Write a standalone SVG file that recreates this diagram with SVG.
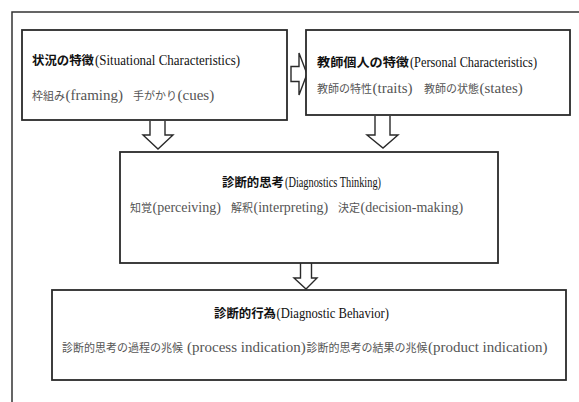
<svg xmlns="http://www.w3.org/2000/svg" width="579" height="402" viewBox="0 0 579 402">
<style>
.frame{fill:none;stroke:#333;stroke-width:1.5}
.box{fill:#fff;stroke:#2a2a2a;stroke-width:1.8}
.arr{fill:#fff;stroke:#2a2a2a;stroke-width:1.4;stroke-linejoin:miter}
text{font-family:"Liberation Serif","Noto Sans CJK JP",serif}
.tj{font-size:12.5px;fill:#111;font-weight:700}
.tl{font-size:14.5px;fill:#111}
.sj{font-size:11px;fill:#555}
.sl{font-size:15px;fill:#555}
.sl2{font-size:14px;fill:#555}
</style>
<rect width="579" height="402" fill="#fff"/>
<rect class="frame" x="12" y="12" width="620" height="430"/>
<g id="connectors">
<path class="arr" d="M291,66.5 H299 V53 L307,74 L299,95 V81.5 H291 Z"/>
<path class="arr" d="M150,121 V135 H143 L158,149 L173,135 H165 V121"/>
<path class="arr" d="M375,116 V135 H367 L383,148 L398,135 H390 V116"/>
<path class="arr" d="M300.5,263 V278 H294 L306,289 L317,278 H311.5 V263"/>
</g>
<g id="situational">
<rect class="box" x="22" y="30" width="265" height="90"/>
<text class="tj" x="32" y="65" textLength="62" lengthAdjust="spacingAndGlyphs">状況の特徴</text>
<text class="tl" x="95" y="65" textLength="145" lengthAdjust="spacingAndGlyphs">(Situational Characteristics)</text>
<text class="sj" x="32" y="99.5">枠組み</text>
<text class="sl" x="65.5" y="99.5">(framing)</text>
<text class="sj" x="133" y="99.5">手がかり</text>
<text class="sl" x="177.5" y="99.5">(cues)</text>
</g>
<g id="personal">
<rect class="box" x="306" y="30" width="264" height="85"/>
<text class="tj" x="317" y="66.5" textLength="92" lengthAdjust="spacingAndGlyphs">教師個人の特徴</text>
<text class="tl" x="410" y="66.5" textLength="127" lengthAdjust="spacingAndGlyphs">(Personal Characteristics)</text>
<text class="sj" x="317" y="92.5">教師の特性</text>
<text class="sl" x="372.5" y="92.5">(traits)</text>
<text class="sj" x="424" y="92.5">教師の状態</text>
<text class="sl" x="479.5" y="92.5">(states)</text>
</g>
<g id="thinking">
<rect class="box" x="120" y="152" width="378" height="111"/>
<text class="tj" x="222" y="186.5" textLength="62" lengthAdjust="spacingAndGlyphs">診断的思考</text>
<text class="tl" x="285" y="186.5" textLength="96" lengthAdjust="spacingAndGlyphs">(Diagnostics Thinking)</text>
<text class="sj" x="130" y="212">知覚</text>
<text class="sl2" x="152.5" y="212">(perceiving)</text>
<text class="sj" x="231" y="212">解釈</text>
<text class="sl2" x="253.5" y="212">(interpreting)</text>
<text class="sj" x="338" y="212">決定</text>
<text class="sl2" x="360.5" y="212">(decision-making)</text>
</g>
<g id="behavior">
<rect class="box" x="52" y="290" width="514" height="90"/>
<text class="tj" x="214" y="318" textLength="62" lengthAdjust="spacingAndGlyphs">診断的行為</text>
<text class="tl" x="276.5" y="318" textLength="112.5" lengthAdjust="spacingAndGlyphs">(Diagnostic Behavior)</text>
<text class="sj" x="62" y="351.5">診断的思考の過程の兆候</text>
<text class="sl" x="187" y="351.5">(process indication)</text>
<text class="sj" x="306.5" y="351.5">診断的思考の結果の兆候</text>
<text class="sl" x="428" y="351.5">(product indication)</text>
</g>
</svg>
